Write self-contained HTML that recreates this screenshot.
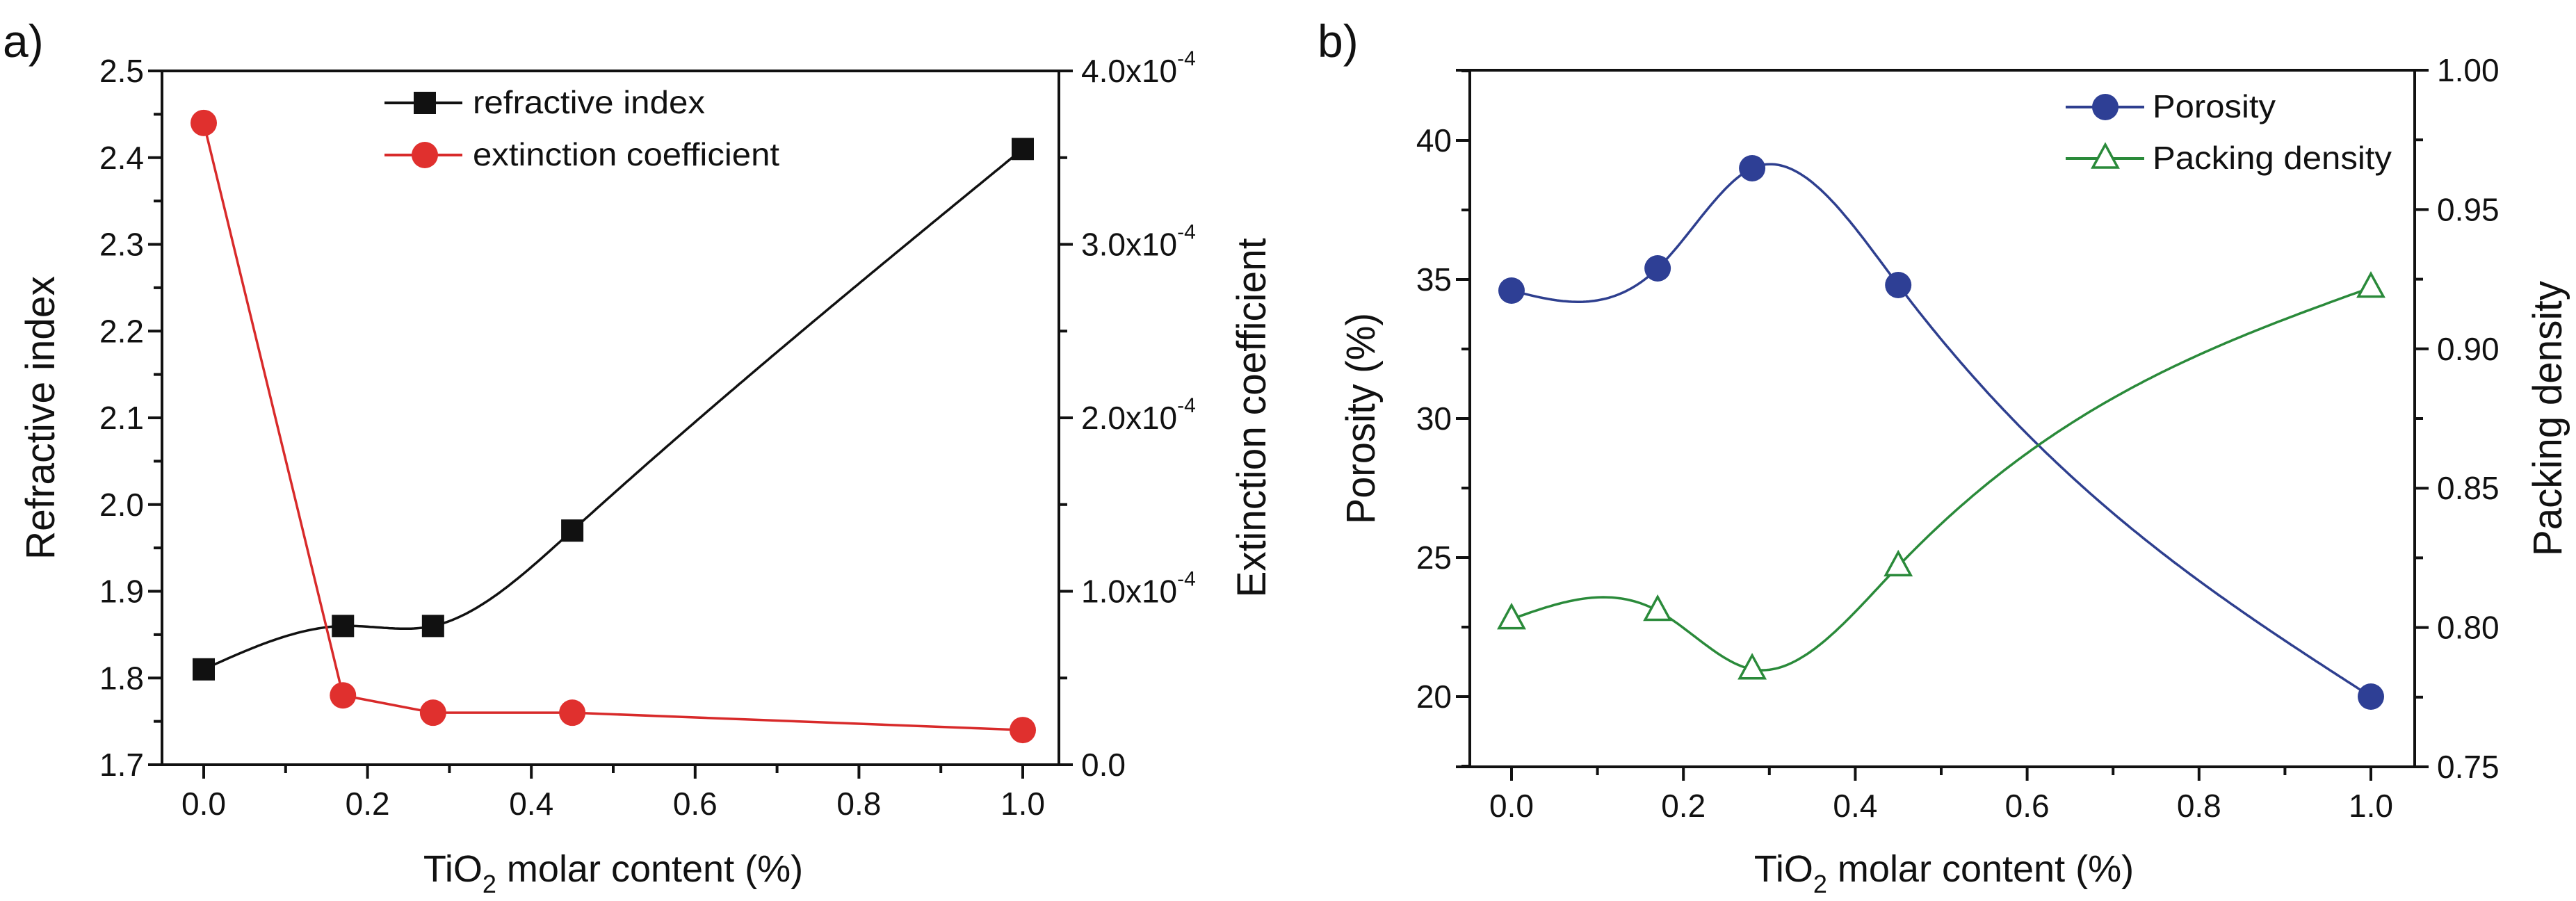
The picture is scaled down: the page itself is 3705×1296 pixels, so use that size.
<!DOCTYPE html>
<html><head><meta charset="utf-8"><style>
html,body{margin:0;padding:0;background:#fff;}
svg{display:block;font-family:"Liberation Sans",Arial,sans-serif;}
</style></head><body>
<svg id="fig" width="3705" height="1296" viewBox="0 0 3705 1296" xmlns="http://www.w3.org/2000/svg"></svg>
<script>
// ---- Panel a data ----
const xA = [0, 0.17, 0.28, 0.45, 1.0];
const refIdx = [1.81, 1.86, 1.86, 1.97, 2.41];
const extCoef = [3.7e-4, 0.4e-4, 0.3e-4, 0.3e-4, 0.2e-4];
const xTicks = [0, 0.2, 0.4, 0.6, 0.8, 1.0];
const xTickLabels = ["0.0","0.2","0.4","0.6","0.8","1.0"];
const aLeftTicks = [1.7,1.8,1.9,2.0,2.1,2.2,2.3,2.4,2.5];
const aLeftLabels = ["1.7","1.8","1.9","2.0","2.1","2.2","2.3","2.4","2.5"];
const aRightTicks = [0,1e-4,2e-4,3e-4,4e-4];
const aRightLabels = ["0.0","1.0x10","2.0x10","3.0x10","4.0x10"];
// ---- Panel b data ----
const xB = [0, 0.17, 0.28, 0.45, 1.0];
const porosity = [34.6, 35.4, 39.0, 34.8, 20.0];
const packing = [0.803, 0.806, 0.785, 0.822, 0.922];
const bLeftTicks = [20,25,30,35,40];
const bLeftLabels = ["20","25","30","35","40"];
const bRightTicks = [0.75,0.80,0.85,0.90,0.95,1.00];
const bRightLabels = ["0.75","0.80","0.85","0.90","0.95","1.00"];

const NS="http://www.w3.org/2000/svg";
const svg=document.getElementById('fig');
function el(tag,attrs,parent){const e=document.createElementNS(NS,tag);for(const k in attrs)e.setAttribute(k,attrs[k]);(parent||svg).appendChild(e);return e;}
function lin(d0,d1,r0,r1){return v=>r0+(v-d0)/(d1-d0)*(r1-r0);}
// natural cubic spline in data space
function natSpline(xs,ys){
  const n=xs.length,h=[],al=[0],l=[1],mu=[0],z=[0],c=new Array(n).fill(0),b=[],d=[];
  for(let i=0;i<n-1;i++)h.push(xs[i+1]-xs[i]);
  for(let i=1;i<n-1;i++)al.push(3/h[i]*(ys[i+1]-ys[i])-3/h[i-1]*(ys[i]-ys[i-1]));
  for(let i=1;i<n-1;i++){l[i]=2*(xs[i+1]-xs[i-1])-h[i-1]*mu[i-1];mu[i]=h[i]/l[i];z[i]=(al[i]-h[i-1]*z[i-1])/l[i];}
  l[n-1]=1;z[n-1]=0;
  for(let j=n-2;j>=0;j--){c[j]=z[j]-mu[j]*c[j+1];b[j]=(ys[j+1]-ys[j])/h[j]-h[j]*(c[j+1]+2*c[j])/3;d[j]=(c[j+1]-c[j])/(3*h[j]);}
  return x=>{let j=0;while(j<n-2&&x>xs[j+1])j++;const t=x-xs[j];return ys[j]+b[j]*t+c[j]*t*t+d[j]*t*t*t;};
}
function splinePath(xs,ys,sx,sy){
  const f=natSpline(xs,ys);const x0=xs[0],x1=xs[xs.length-1];let d='';
  for(let k=0;k<=300;k++){const x=x0+(x1-x0)*k/300;d+=(k?' L':'M')+sx(x).toFixed(1)+','+sy(f(x)).toFixed(1);}
  return d;
}
function text(str,x,y,size,anchor,name,parent,extra){
  const t=el('text',Object.assign({x:x,y:y,'font-size':size,'text-anchor':anchor||'start',fill:'#111'},extra||{}),parent);
  t.textContent=str;
  
  
  return t;
}

function panel(cfg){
  const g=el('g',{});
  
  
  const {L,R,T,B}=cfg;
  const sx=lin(0,1,cfg.x0,cfg.x1);
  const ax=el('g',{stroke:'#111','stroke-width':4,fill:'none'},g);
  
  
  el('line',{x1:L,y1:T,x2:L,y2:B},ax);
  el('line',{x1:R,y1:T,x2:R,y2:B},ax);
  el('line',{x1:L-20,y1:T,x2:R+20,y2:T},ax);
  el('line',{x1:L-20,y1:B,x2:R+20,y2:B},ax);
  xTicks.forEach((v,i)=>{
    el('line',{x1:sx(v),y1:B,x2:sx(v),y2:B+20,stroke:'#111','stroke-width':4},g);
    if(i<xTicks.length-1) el('line',{x1:sx(v+0.1),y1:B,x2:sx(v+0.1),y2:B+12,stroke:'#111','stroke-width':4},g);
    text(xTickLabels[i],sx(v),B+72,46,'middle','x-tick-label',g);
  });
  const sl=cfg.sl, sr=cfg.sr;
  cfg.lt.forEach((v,i)=>{
    el('line',{x1:L-20,y1:sl(v),x2:L,y2:sl(v),stroke:'#111','stroke-width':4},g);
    if(i<cfg.lt.length-1||cfg.lminorTop){const m=v+cfg.lstep/2; if(sl(m)>=T-1) el('line',{x1:L-12,y1:sl(m),x2:L,y2:sl(m),stroke:'#111','stroke-width':4},g);}
    if(i==0&&cfg.lminorBelow){const m=v-cfg.lstep/2; if(sl(m)<=B) el('line',{x1:L-12,y1:sl(m),x2:L,y2:sl(m),stroke:'#111','stroke-width':4},g);}
    text(cfg.ll[i],L-26,sl(v)+16,46,'end','left-tick-label',g);
  });
  cfg.rt.forEach((v,i)=>{
    el('line',{x1:R,y1:sr(v),x2:R+20,y2:sr(v),stroke:'#111','stroke-width':4},g);
    if(i<cfg.rt.length-1){const m=v+cfg.rstep/2; el('line',{x1:R,y1:sr(m),x2:R+12,y2:sr(m),stroke:'#111','stroke-width':4},g);}
    const t=text(cfg.rl[i],R+32,sr(v)+16,46,'start','right-tick-label',g);
    if(cfg.sci&&i>0){const s=el('tspan',{'font-size':30,dy:-24},t);s.textContent='-4';}
  });
  const xt=text('TiO',cfg.xtc,1268,54,'middle','x-axis-title',g);
  const s1=el('tspan',{'font-size':36,dy:16},xt);s1.textContent='2';
  const s2=el('tspan',{dy:-16},xt);s2.textContent=' molar content (%)';
  text(cfg.ltitle,0,0,58,'middle','left-axis-title',g,{transform:`translate(${cfg.ltx},${(T+B)/2}) rotate(-90)`,textLength:cfg.ltlen,lengthAdjust:'spacingAndGlyphs'});
  text(cfg.rtitle,0,0,58,'middle','right-axis-title',g,{transform:`translate(${cfg.rtx},${(T+B)/2}) rotate(-90)`,textLength:cfg.rtlen,lengthAdjust:'spacingAndGlyphs'});
  text(cfg.label,cfg.labx,82,66,'start','panel-label',g);
  return {g,sx};
}

// Panel a
const aL=233,aR=1523,aT=102,aB=1100;
const aSl=lin(1.7,2.5,aB,aT), aSr=lin(0,4e-4,aB,aT);
const pa=panel({name:'panel-a',L:aL,R:aR,T:aT,B:aB,x0:293,x1:1471,sl:aSl,sr:aSr,lt:aLeftTicks,ll:aLeftLabels,lstep:0.1,rt:aRightTicks,rl:aRightLabels,rstep:1e-4,sci:true,
  ltitle:'Refractive index',ltx:78,ltlen:408,rtitle:'Extinction coefficient',rtx:1820,rtlen:517,xtc:882,label:'a)',labx:4});
const ptsRef=xA.map((x,i)=>[pa.sx(x),aSl(refIdx[i])]);
const ptsExt=xA.map((x,i)=>[pa.sx(x),aSr(extCoef[i])]);
const lr=el('path',{d:splinePath(xA,refIdx,pa.sx,aSl),fill:'none',stroke:'#111','stroke-width':3.5},pa.g);


const le=el('path',{d:'M'+ptsExt.map(p=>p.join(',')).join(' L'),fill:'none',stroke:'#d82a2a','stroke-width':3.5},pa.g);


ptsRef.forEach(p=>{const m=el('rect',{x:p[0]-16,y:p[1]-16,width:32,height:32,fill:'#111'},pa.g);
  
  });
ptsExt.forEach(p=>{const m=el('circle',{cx:p[0],cy:p[1],r:19,fill:'#e0302e'},pa.g);
  
  });
const lga=el('g',{},pa.g);


el('line',{x1:553,y1:148,x2:665,y2:148,stroke:'#111','stroke-width':4},lga);
el('rect',{x:595,y:132,width:32,height:32,fill:'#111'},lga);
text('refractive index',680,163,46,'start','legend-entry-refractive-index',lga,{textLength:334,lengthAdjust:'spacingAndGlyphs'});
el('line',{x1:553,y1:223,x2:665,y2:223,stroke:'#d82a2a','stroke-width':4},lga);
el('circle',{cx:611,cy:223,r:19,fill:'#e0302e'},lga);
text('extinction coefficient',680,238,46,'start','legend-entry-extinction-coefficient',lga,{textLength:441,lengthAdjust:'spacingAndGlyphs'});

// Panel b
const bL=2114,bR=3473,bT=101,bB=1103;
const bSl=lin(20,40,1002,202), bSr=lin(0.75,1.0,bB,bT);
const pb=panel({name:'panel-b',L:bL,R:bR,T:bT,B:bB,x0:2174,x1:3410,sl:bSl,sr:bSr,lt:bLeftTicks,ll:bLeftLabels,lstep:5,lminorBelow:true,lminorTop:true,rt:bRightTicks,rl:bRightLabels,rstep:0.05,sci:false,
  ltitle:'Porosity (%)',ltx:1977,ltlen:304,rtitle:'Packing density',rtx:3684,rtlen:396,xtc:2796,label:'b)',labx:1895});
const ptsPor=xB.map((x,i)=>[pb.sx(x),bSl(porosity[i])]);
const ptsPack=xB.map((x,i)=>[pb.sx(x),bSr(packing[i])]);
const lp=el('path',{d:splinePath(xB,porosity,pb.sx,bSl),fill:'none',stroke:'#2e3f8f','stroke-width':3.5},pb.g);


const lk=el('path',{d:splinePath(xB,packing,pb.sx,bSr),fill:'none',stroke:'#2a8a3a','stroke-width':3.5},pb.g);


ptsPor.forEach(p=>{const m=el('circle',{cx:p[0],cy:p[1],r:19,fill:'#2e3f95'},pb.g);
  
  });
function tri(cx,cy,parent){return el('polygon',{points:`${cx},${cy-20} ${cx-18},${cy+13} ${cx+18},${cy+13}`,fill:'#fff',stroke:'#2a8a3a','stroke-width':3.5},parent);}
ptsPack.forEach(p=>{const m=tri(p[0],p[1],pb.g);
  
  });
const lgb=el('g',{},pb.g);


el('line',{x1:2971,y1:154,x2:3084,y2:154,stroke:'#2e3f8f','stroke-width':4},lgb);
el('circle',{cx:3028,cy:154,r:19,fill:'#2e3f95'},lgb);
text('Porosity',3096,169,46,'start','legend-entry-porosity',lgb,{textLength:177,lengthAdjust:'spacingAndGlyphs'});
el('line',{x1:2971,y1:228,x2:3084,y2:228,stroke:'#2a8a3a','stroke-width':4},lgb);
tri(3028,228,lgb);
text('Packing density',3096,243,46,'start','legend-entry-packing-density',lgb,{textLength:344,lengthAdjust:'spacingAndGlyphs'});
</script>
</body></html>
